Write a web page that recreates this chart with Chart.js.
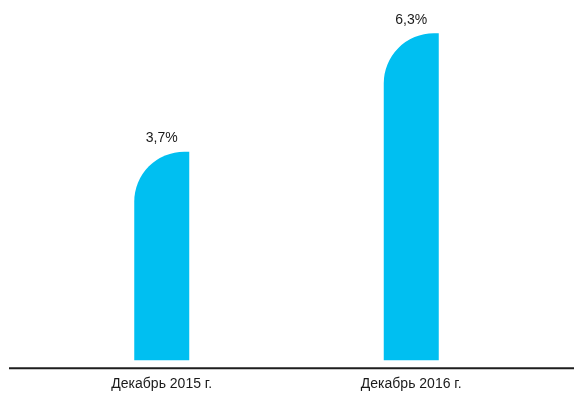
<!DOCTYPE html>
<html>
<head>
<meta charset="utf-8">
<script src="https://cdn.jsdelivr.net/npm/chart.js@4"></script>
<style>
  html, body { margin: 0; padding: 0; background: #ffffff; }
  #wrap { width: 574px; height: 393px; position: relative; }
</style>
</head>
<body>
<div id="wrap"><canvas id="c" width="574" height="393"></canvas></div>
<script>
const categories = ["Декабрь 2015 г.", "Декабрь 2016 г."];
const values = [3.7, 6.3];
const valueLabels = ["3,7%", "6,3%"];
const Y_MIN = -0.88;
const Y_MAX = 7.03;
const BAR_COLOR = "#00BFF1";
const FONT = "'Liberation Sans Narrow', 'Arial Narrow', 'Liberation Sans', sans-serif";

const customBars = {
  id: 'customBars',
  beforeDatasetDraw(chart, args) {
    return false;
  },
  afterDatasetsDraw(chart) {
    const ctx = chart.ctx;
    chart.data.datasets.forEach((ds, di) => {
      const meta = chart.getDatasetMeta(di);
      meta.data.forEach((bar, i) => {
        const p = bar.getProps(['x', 'y', 'base', 'width'], true);
        const left = p.x - p.width / 2;
        const right = p.x + p.width / 2;
        const top = p.y;
        const r = Math.min(p.width * 0.91, p.base - top);
        ctx.save();
        ctx.fillStyle = ds.backgroundColor;
        ctx.beginPath();
        ctx.moveTo(left, p.base);
        ctx.lineTo(left, top + r);
        ctx.arc(left + r, top + r, r, Math.PI, 1.5 * Math.PI);
        ctx.lineTo(right, top);
        ctx.lineTo(right, p.base);
        ctx.closePath();
        ctx.fill();
        // value label
        ctx.fillStyle = '#1a1a1a';
        ctx.font = "14px " + FONT;
        ctx.textAlign = 'center';
        ctx.textBaseline = 'bottom';
        ctx.fillText(valueLabels[i], p.x, top - 6);
        ctx.restore();
      });
    });
    // baseline axis
    const ca = chart.chartArea;
    ctx.save();
    ctx.strokeStyle = '#1e1e1e';
    ctx.lineWidth = 2;
    ctx.beginPath();
    ctx.moveTo(9, ca.bottom + 8);
    ctx.lineTo(chart.width, ca.bottom + 8);
    ctx.stroke();
    ctx.restore();
  }
};

new Chart(document.getElementById('c'), {
  type: 'bar',
  data: {
    labels: categories,
    datasets: [{
      data: values,
      base: Y_MIN,
      backgroundColor: BAR_COLOR,
      barThickness: 55
    }]
  },
  options: {
    responsive: false,
    animation: false,
    layout: { padding: { left: 37, right: 38, top: 0, bottom: -16 } },
    plugins: {
      legend: { display: false },
      tooltip: { enabled: false },
      title: { display: false }
    },
    scales: {
      x: {
        grid: { display: false, drawTicks: false },
        border: { display: false },
        ticks: {
          color: '#1a1a1a',
          padding: 16,
          font: { family: FONT, size: 14 }
        }
      },
      y: {
        display: false,
        min: Y_MIN,
        max: Y_MAX
      }
    }
  },
  plugins: [customBars]
});
</script>
</body>
</html>
